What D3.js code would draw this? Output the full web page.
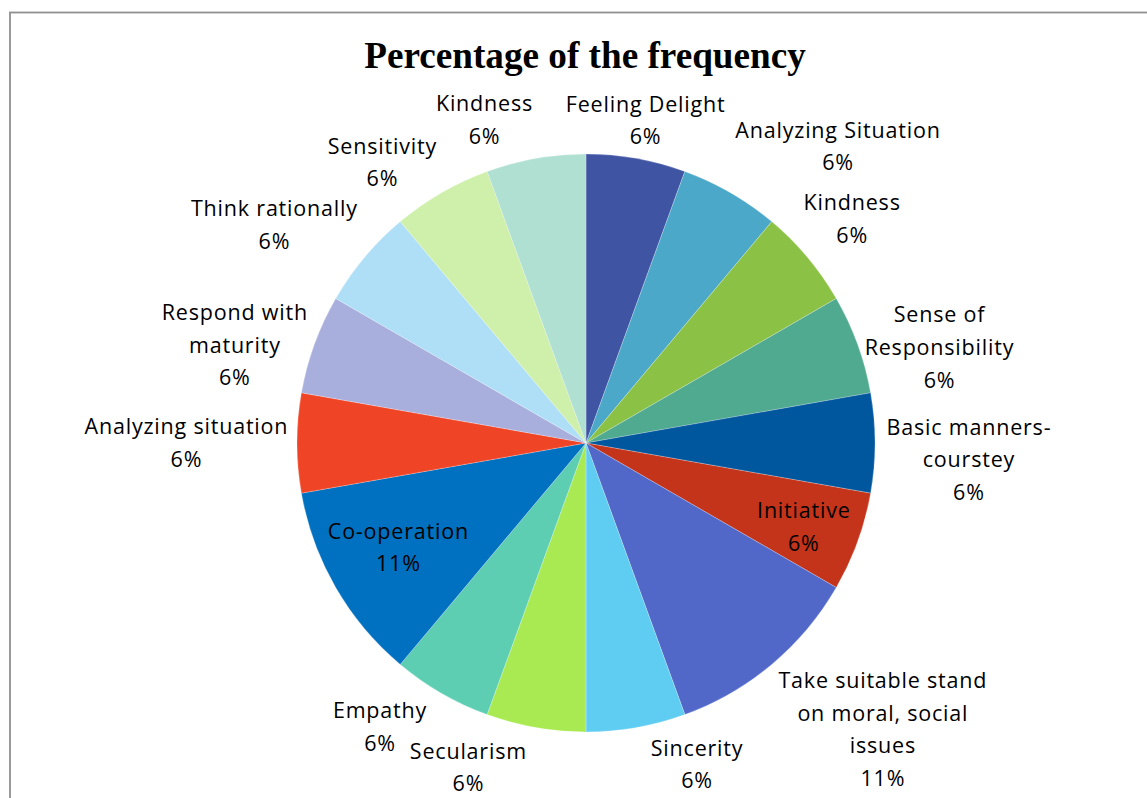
<!DOCTYPE html>
<html>
<head>
<meta charset="utf-8">
<script src="https://cdn.jsdelivr.net/npm/d3@7"></script>
<style>
  html, body { margin: 0; padding: 0; background: #ffffff; }
  svg { display: block; }
  text { font-variant-ligatures: none; }
</style>
</head>
<body>
<svg id="chart" width="1147" height="798"></svg>
<script>
// ---- data ----
const title = "Percentage of the frequency";
const categories = [
  "Feeling Delight", "Analyzing Situation", "Kindness", "Sense of Responsibility",
  "Basic manners-courstey", "Initiative", "Take suitable stand on moral, social issues",
  "Sincerity", "Secularism", "Empathy", "Co-operation", "Analyzing situation",
  "Respond with maturity", "Think rationally", "Sensitivity", "Kindness"
];
const values = [1, 1, 1, 1, 1, 1, 2, 1, 1, 1, 2, 1, 1, 1, 1, 1];
// how each category label wraps onto lines
const labelLines = [
  ["Feeling Delight"], ["Analyzing Situation"], ["Kindness"], ["Sense of", "Responsibility"],
  ["Basic manners-", "courstey"], ["Initiative"], ["Take suitable stand", "on moral, social", "issues"],
  ["Sincerity"], ["Secularism"], ["Empathy"], ["Co-operation"], ["Analyzing situation"],
  ["Respond with", "maturity"], ["Think rationally"], ["Sensitivity"], ["Kindness"]
];
const colors = [
  "#4054A4", "#4BA8C8", "#8BC144", "#4FAA8F", "#01579E", "#C4341B", "#5168C9", "#5FCCF2",
  "#A9EA53", "#5DCEB2", "#0070C0", "#F04427", "#A9AFDC", "#AEDFF6", "#CFF0AA", "#B0E0D2"
];
// label placement: [angle in degrees clockwise from top, distance as a fraction of the radius]
const labelPlacement = [
  [10.4, 1.135], [40.3, 1.346], [49.8, 1.204], [74.8, 1.266], [92.5, 1.325], [111, 0.806],
  [134, 1.426], [161, 1.176], [200, 1.194], [216, 1.215], [241, 0.744], [270, 1.384],
  [285.6, 1.263], [305, 1.318], [324, 1.201], [342.5, 1.173]
];

// ---- layout ----
const W = 1147, H = 798;
const cx = 586, cy = 443, R = 289;
const fontLabel = "'Open Sans', 'Noto Sans', sans-serif";
const labelSize = 21.5;
const lineH = 32.7;

const svg = d3.select("#chart");

// frame
svg.append("rect")
  .attr("x", 10).attr("y", 12.5)
  .attr("width", W + 20).attr("height", H + 20)
  .attr("fill", "none").attr("stroke", "#8f8f8f").attr("stroke-width", 1.8);

// title
svg.append("text")
  .attr("x", 585).attr("y", 68)
  .attr("text-anchor", "middle")
  .attr("font-family", "'Liberation Serif', 'Times New Roman', serif")
  .attr("font-weight", "bold")
  .attr("font-size", 37.2)
  .attr("fill", "#000")
  .text(title);

const total = d3.sum(values);
const pct = d3.format(".0%");

const pie = d3.pie().sort(null).value(d => d.value);
const data = values.map((v, i) => ({ value: v, name: categories[i], i }));
const arcs = pie(data);

const arc = d3.arc().innerRadius(0).outerRadius(R);

const g = svg.append("g").attr("transform", `translate(${cx},${cy})`);

g.selectAll("path.slice")
  .data(arcs)
  .join("path")
  .attr("class", "slice")
  .attr("d", arc)
  .attr("fill", d => colors[d.data.i])
  .attr("stroke", "#ffffff")
  .attr("stroke-width", 0.4)
  .attr("stroke-opacity", 0.6);

// labels
const labels = g.selectAll("text.lbl")
  .data(arcs)
  .join("text")
  .attr("class", "lbl")
  .attr("text-anchor", "middle")
  .attr("font-family", fontLabel)
  .attr("font-size", labelSize)
  .attr("letter-spacing", 0.8)
  .attr("fill", "#000");

labels.each(function(d) {
  const i = d.data.i;
  const [angDeg, rf] = labelPlacement[i];
  const a = angDeg * Math.PI / 180;
  const lx = Math.sin(a) * R * rf + 0.4;
  const ly = -Math.cos(a) * R * rf;
  const lines = labelLines[i].concat([pct(d.data.value / total)]);
  const n = lines.length;
  const t = d3.select(this);
  lines.forEach((ln, k) => {
    t.append("tspan")
      .attr("x", lx)
      .attr("y", ly + (k - (n - 1) / 2) * lineH)
      .attr("dy", "0.36em")
      .text(ln);
  });
});
</script>
</body>
</html>
